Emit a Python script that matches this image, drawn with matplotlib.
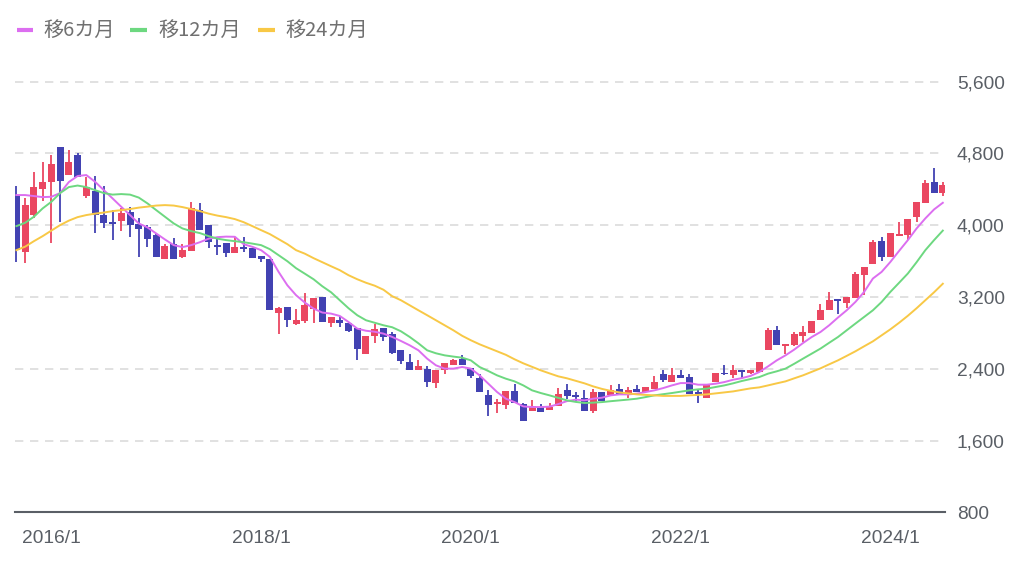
import matplotlib
matplotlib.use('Agg')
import matplotlib.pyplot as plt
from matplotlib.lines import Line2D
import numpy as np

# ---------------- data (monthly candles, 2015/9 .. 2024/7) ----------------
start_year, start_month = 2015, 9
opens = [4324, 3702, 4112, 4398, 4483, 4867, 4558, 4781, 4324, 4383,
         4112, 4030, 4048, 4148, 4008, 3974, 3888, 3628, 3788, 3640,
         3713, 4167, 4000, 3777, 3802, 3684, 3758, 3747, 3654, 3628,
         3026, 3088, 2903, 2929, 3070, 3200, 2914, 2940, 2910, 2854,
         2560, 2765, 2854, 2791, 2605, 2475, 2382, 2401, 2242, 2382,
         2438, 2512, 2412, 2300, 2107, 2003, 1995, 2155, 2003, 1932,
         1977, 1935, 1984, 2159, 2111, 2077, 1924, 2140, 2103, 2178,
         2114, 2178, 2140, 2178, 2345, 2251, 2334, 2307, 2140, 2077,
         2251, 2352, 2326, 2382, 2352, 2363, 2605, 2828, 2650, 2661,
         2761, 2798, 2940, 3051, 3163, 3133, 3193, 3442, 3565, 3821,
         3640, 3877, 3888, 4086, 4249, 4483, 4360]
closes = [3721, 4223, 4421, 4483, 4681, 4494, 4706, 4539, 4421, 4112,
          4026, 4011, 4131, 4000, 3952, 3844, 3640, 3766, 3621, 3721,
          4186, 3944, 3814, 3758, 3684, 3758, 3730, 3636, 3617, 3051,
          3077, 2940, 2940, 3107, 3189, 2921, 2977, 2914, 2820, 2616,
          2765, 2847, 2754, 2575, 2486, 2382, 2430, 2252, 2382, 2468,
          2501, 2438, 2319, 2144, 1995, 2033, 2155, 2014, 1820, 1984,
          1921, 1977, 2123, 2092, 2084, 1924, 2140, 2039, 2166, 2103,
          2159, 2140, 2196, 2252, 2270, 2334, 2296, 2122, 2114, 2214,
          2352, 2337, 2390, 2363, 2390, 2475, 2828, 2661, 2672, 2784,
          2809, 2932, 3051, 3163, 3152, 3200, 3453, 3528, 3814, 3640,
          3907, 3900, 4067, 4260, 4465, 4354, 4446]
highs = [4439, 4298, 4588, 4706, 4781, 4870, 4837, 4800, 4532, 4547,
         4435, 4167, 4186, 4204, 4075, 4000, 3907, 3788, 3852, 3788,
         4260, 4242, 4000, 3870, 3802, 3870, 3870, 3747, 3654, 3628,
         3085, 3088, 3070, 3249, 3189, 3200, 2977, 2988, 2910, 2854,
         2765, 2903, 2854, 2804, 2605, 2560, 2493, 2426, 2382, 2468,
         2512, 2556, 2412, 2337, 2163, 2059, 2155, 2233, 2014, 2051,
         2003, 2018, 2190, 2233, 2140, 2159, 2178, 2140, 2214, 2233,
         2196, 2214, 2196, 2315, 2390, 2408, 2382, 2345, 2166, 2214,
         2352, 2438, 2438, 2390, 2390, 2475, 2850, 2876, 2672, 2806,
         2876, 2932, 3118, 3256, 3163, 3200, 3479, 3528, 3833, 3863,
         3907, 4037, 4067, 4260, 4502, 4633, 4480]
lows = [3590, 3573, 4075, 4268, 3796, 4033, 4558, 4539, 4298, 3907,
        3963, 3833, 3937, 3863, 3640, 3751, 3640, 3621, 3621, 3630,
        3713, 3944, 3740, 3665, 3646, 3684, 3696, 3636, 3590, 3051,
        2791, 2865, 2884, 2914, 2914, 2921, 2865, 2865, 2806, 2493,
        2560, 2683, 2709, 2560, 2456, 2382, 2382, 2196, 2189, 2344,
        2438, 2438, 2300, 2144, 1872, 1910, 1951, 2014, 1820, 1932,
        1921, 1935, 1984, 2066, 2039, 1924, 1905, 2039, 2103, 2103,
        2077, 2140, 2140, 2178, 2251, 2251, 2296, 2122, 2014, 2077,
        2251, 2326, 2300, 2300, 2345, 2363, 2605, 2661, 2560, 2650,
        2698, 2798, 2940, 3051, 3007, 3082, 3193, 3219, 3565, 3602,
        3640, 3877, 3833, 4030, 4249, 4354, 4324]
ma6 = [4335, 4335, 4324, 4312, 4316, 4357, 4480, 4547, 4558, 4483,
       4390, 4298, 4204, 4112, 4019, 3974, 3907, 3840, 3777, 3755,
       3777, 3810, 3849, 3866, 3872, 3870, 3788, 3758, 3721, 3646,
       3479, 3330, 3219, 3137, 3070, 3026, 3014, 2988, 2921, 2847,
       2823, 2812, 2791, 2754, 2709, 2661, 2605, 2512, 2438, 2401,
       2401, 2419, 2401, 2326, 2233, 2140, 2066, 2028, 1980, 1973,
       1973, 1977, 2006, 2039, 2055, 2047, 2066, 2077, 2103, 2114,
       2114, 2122, 2140, 2159, 2184, 2214, 2240, 2240, 2222, 2222,
       2233, 2251, 2277, 2295, 2320, 2363, 2426, 2493, 2549, 2613,
       2686, 2753, 2809, 2884, 2970, 3051, 3144, 3256, 3405, 3479,
       3590, 3713, 3833, 3963, 4075, 4175, 4249]
ma12 = [3989, 4026, 4093, 4186, 4260, 4357, 4424, 4441, 4424, 4390,
        4357, 4340, 4346, 4340, 4307, 4242, 4167, 4093, 4019, 3963,
        3933, 3911, 3877, 3849, 3833, 3821, 3810, 3794, 3777, 3732,
        3665, 3598, 3520, 3459, 3397, 3319, 3252, 3163, 3074, 2996,
        2940, 2912, 2884, 2862, 2817, 2754, 2683, 2605, 2572, 2549,
        2535, 2523, 2493, 2419, 2374, 2326, 2289, 2259, 2214, 2159,
        2129, 2103, 2075, 2047, 2030, 2018, 2022, 2028, 2038, 2047,
        2056, 2066, 2084, 2103, 2116, 2129, 2144, 2159, 2170, 2178,
        2196, 2214, 2237, 2263, 2285, 2307, 2345, 2371, 2401, 2455,
        2512, 2568, 2624, 2689, 2753, 2828, 2903, 2977, 3051, 3144,
        3256, 3358, 3461, 3587, 3721, 3833, 3939]
ma24 = [3721, 3760, 3821, 3877, 3939, 4000, 4050, 4089, 4112, 4128,
        4140, 4156, 4167, 4179, 4195, 4206, 4218, 4223, 4218, 4201,
        4179, 4156, 4128, 4106, 4089, 4067, 4033, 3989, 3944, 3900,
        3844, 3788, 3721, 3682, 3632, 3587, 3542, 3498, 3442, 3397,
        3358, 3325, 3280, 3208, 3163, 3107, 3051, 2996, 2940, 2884,
        2828, 2767, 2717, 2672, 2633, 2594, 2555, 2505, 2460, 2421,
        2382, 2348, 2315, 2293, 2265, 2237, 2203, 2175, 2153, 2136,
        2125, 2114, 2108, 2103, 2097, 2097, 2097, 2103, 2108, 2114,
        2125, 2136, 2147, 2164, 2181, 2192, 2214, 2237, 2259, 2293,
        2326, 2365, 2404, 2449, 2493, 2543, 2594, 2650, 2705, 2772,
        2839, 2912, 2990, 3074, 3163, 3252, 3347]
legend_labels = ['移6カ月', '移12カ月', '移24カ月']
y_ticks = [800, 1600, 2400, 3200, 4000, 4800, 5600]
x_tick_labels = ['2016/1', '2018/1', '2020/1', '2022/1', '2024/1']

# month labels for each candle
months = []
yy, mm = start_year, start_month
for _ in range(len(closes)):
    months.append(f'{yy}/{mm}')
    mm += 1
    if mm > 12:
        mm = 1
        yy += 1

# ---------------- styling ----------------
RED = '#ea4761'
BLUE = '#4242b2'
MAG = '#dc6ef0'
GRN = '#6dd880'
YEL = '#f8c846'
TXT = '#5a5f66'

W, H = 1024, 565
fig = plt.figure(figsize=(W / 100, H / 100), dpi=100)
ax = fig.add_axes([15 / W, (H - 512.3) / H, (945 - 15) / W, (512.3 - 60) / H])

o = np.array(opens, float)
c = np.array(closes, float)
hi = np.array(highs, float)
lo = np.array(lows, float)
x = np.arange(len(c))
cols = np.where(c >= o, RED, BLUE)

ax.vlines(x, lo, hi, colors=cols, linewidth=1.3, zorder=2)
bottoms = np.minimum(o, c)
heights = np.maximum(np.abs(c - o), 20)
ax.bar(x, heights, bottom=bottoms, width=0.8, color=cols, linewidth=0, zorder=3)

ax.plot(x, ma6, color=MAG, lw=1.4, zorder=4)
ax.plot(x, ma12, color=GRN, lw=1.4, zorder=4)
ax.plot(x, ma24, color=YEL, lw=1.4, zorder=4)

ax.set_xlim(-0.16, 106.25)
ax.set_ylim(800, 5840)

for v in y_ticks[1:]:
    ax.axhline(v, color='#dcdcdc', lw=1.2, ls=(0, (5, 4)), zorder=0)

ax.yaxis.tick_right()
ax.set_yticks(y_ticks)
ax.set_yticklabels([f'{v:,}' for v in y_ticks])
tick_pos = [months.index(s) for s in x_tick_labels]
ax.set_xticks(tick_pos)
ax.set_xticklabels(x_tick_labels)
ax.tick_params(axis='y', length=0, pad=8.5, labelsize=13.8, labelcolor=TXT)
ax.tick_params(axis='x', length=0, pad=13, labelsize=13.8, labelcolor=TXT)
for lab in ax.get_xticklabels() + ax.get_yticklabels():
    lab.set_fontfamily(['Liberation Sans', 'DejaVu Sans'])

for s in ['top', 'left', 'right']:
    ax.spines[s].set_visible(False)
ax.spines['bottom'].set_color('#5a5f66')
ax.spines['bottom'].set_linewidth(1.5)
ax.set_facecolor('none')

# legend (manual)
ly = 1 - 30 / H
entries = [(17, 33, 43, MAG), (130, 147, 158, GRN), (258, 275, 285, YEL)]
for (x0, x1, tx, col), lab in zip(entries, legend_labels):
    fig.add_artist(Line2D([x0 / W, x1 / W], [ly, ly], color=col, lw=3,
                          transform=fig.transFigure, solid_capstyle='butt'))
    fig.text(tx / W, ly, lab, fontsize=14.5, color='#707070', va='center', ha='left',
             family=['Noto Sans CJK JP', 'DejaVu Sans'])

fig.savefig('out.png', dpi=100, facecolor='white')
